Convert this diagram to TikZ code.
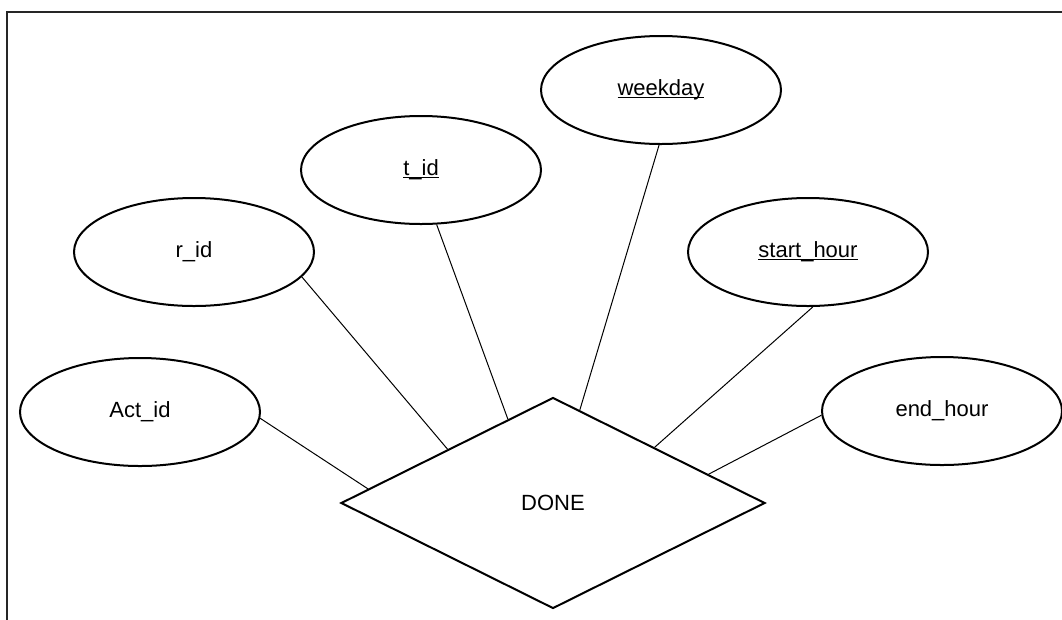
\documentclass[tikz,border=0pt]{standalone}
\usepackage{fontspec}
\setmainfont{Liberation Sans}
\usetikzlibrary{shapes.geometric,calc}

% underlined key attribute name (rule drawn through descenders)
\newcommand{\keyattr}[1]{\setbox0\hbox{#1}\rlap{\rule[-2.6pt]{\wd0}{1.4pt}}\box0}

\begin{document}
\begin{tikzpicture}[x=1pt,y=-1pt,
  erfont/.style={font=\fontsize{22}{26}\selectfont},
  attr/.style={ellipse,draw,line width=2pt,minimum width=240pt,minimum height=108pt,inner sep=0pt,erfont},
  rel/.style={diamond,draw,line width=2pt,minimum width=424pt,minimum height=211pt,inner sep=0pt,erfont},
  link/.style={line width=1pt}]

\useasboundingbox (0,0) rectangle (1062,619);

% page frame (top and left edges)
\draw[line width=2.6pt,black!85] (7,630) -- (7,12) -- (1070,12);

% relationship
\node[rel] (done) at (553,503) {DONE};

% attributes
\node[attr] (act)   at (140,412) {Act\_id};
\node[attr] (rid)   at (194,252) {r\_id};
\node[attr] (tid)   at (421,170) {\keyattr{t\_id}};
\node[attr] (wday)  at (661,90)  {\keyattr{weekday}};
\node[attr] (start) at (808,252) {\keyattr{start\_hour}};
\node[attr] (endh)  at (942,411) {end\_hour};

% attachment points on the diamond edges
\coordinate (pa) at ($(done.west)!0.132!(done.north)$);
\coordinate (pr) at ($(done.west)!0.505!(done.north)$);
\coordinate (pt) at ($(done.west)!0.788!(done.north)$);
\coordinate (pw) at ($(done.north)!0.126!(done.east)$);
\coordinate (ps) at ($(done.north)!0.477!(done.east)$);
\coordinate (pe) at ($(done.north)!0.73!(done.east)$);

% connectors
\draw[link] (act.-3)    -- (pa);
\draw[link] (rid.-13)   -- (pr);
\draw[link] (tid.-74)   -- (pt);
\draw[link] (wday.-92)  -- (pw);
\draw[link] (start.-85) -- (ps);
\draw[link] (endh.182)  -- (pe);

\end{tikzpicture}
\end{document}
